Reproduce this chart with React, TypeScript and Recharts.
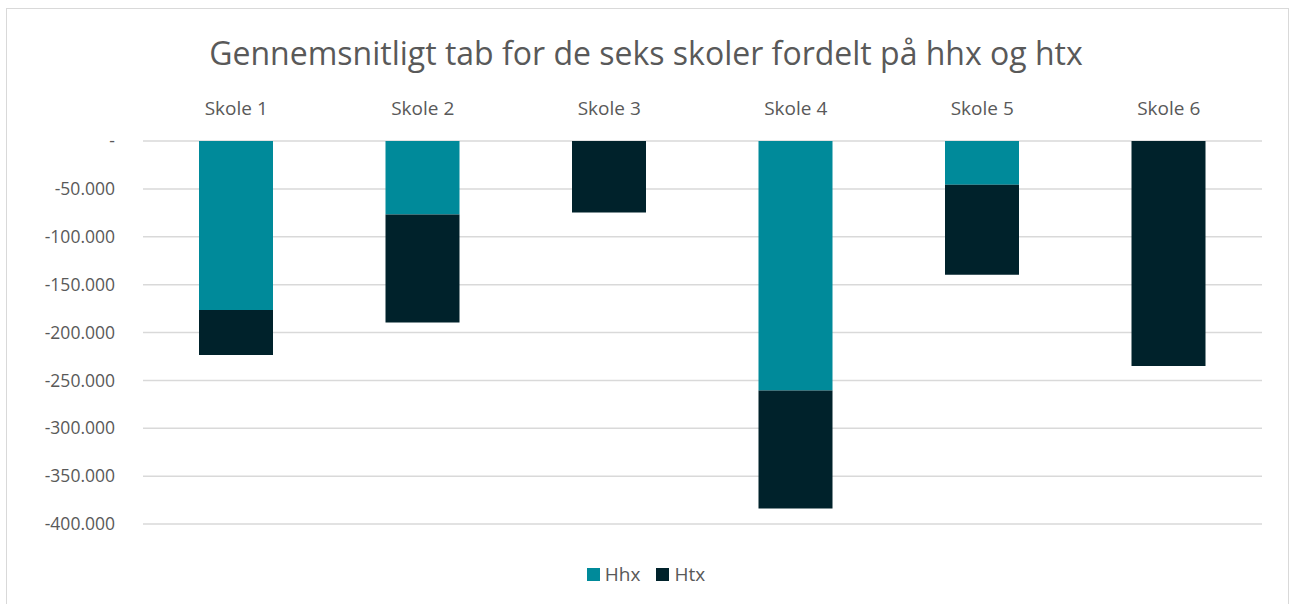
import React from "react";
import { BarChart, Bar, XAxis, YAxis, CartesianGrid, Legend } from "recharts";

const categories = ["Skole 1", "Skole 2", "Skole 3", "Skole 4", "Skole 5", "Skole 6"];
const hhxValues = [-176400, -76700, 0, -260500, -45600, 0];
const htxValues = [-47100, -112900, -74600, -123400, -94000, -235000];
const yTicks = [0, -50000, -100000, -150000, -200000, -250000, -300000, -350000, -400000];

const data = categories.map((name, i) => ({ name, Hhx: hhxValues[i], Htx: htxValues[i] }));

const FONT = "'Open Sans', 'Liberation Sans', sans-serif";
const TEXT = "#595959";
const HHX = "#008A9A";
const HTX = "#00222B";

const fmt = (v: number) => {
  if (v === 0) return "-";
  const abs = Math.abs(v);
  const s = abs.toString().replace(/\B(?=(\d{3})+(?!\d))/g, ".");
  return (v < 0 ? "-" : "") + s;
};

const renderLegend = () => (
  <div style={{ display: "flex", justifyContent: "center", alignItems: "center", fontFamily: FONT, fontSize: 19, color: TEXT }}>
    <span style={{ display: "inline-block", width: 13, height: 13, background: HHX, marginRight: 5 }} />
    <span style={{ marginRight: 16 }}>Hhx</span>
    <span style={{ display: "inline-block", width: 13, height: 13, background: HTX, marginRight: 5 }} />
    <span>Htx</span>
  </div>
);

export default function App() {
  return (
    <div style={{ position: "absolute", left: 0, top: 0, width: 1292, height: 604, overflow: "hidden", background: "#fff" }}>
      <div style={{ position: "absolute", left: 6, top: 8, width: 1283, height: 620, border: "1px solid #d9d9d9", boxSizing: "border-box" }} />
      <div style={{ position: "absolute", left: 0, top: 31, width: 1292, textAlign: "center", fontFamily: FONT, fontSize: 32, color: TEXT }}>
        Gennemsnitligt tab for de seks skoler fordelt på hhx og htx
      </div>
      <div style={{ position: "absolute", left: 0, top: 0 }}>
        <BarChart width={1292} height={604} data={data} margin={{ top: 111, right: 30, bottom: 54, left: 6 }} barSize={74}>
          <CartesianGrid vertical={false} stroke="#d9d9d9" strokeWidth={1.5} />
          <XAxis
            dataKey="name"
            orientation="top"
            height={30}
            axisLine={false}
            tickLine={false}
            tickSize={0}
            tickMargin={26}
            tick={{ fill: TEXT, fontSize: 19, fontFamily: FONT }}
          />
          <YAxis
            width={137}
            domain={[-400000, 0]}
            ticks={yTicks}
            tickFormatter={fmt}
            axisLine={false}
            tickLine={false}
            tickSize={0}
            tickMargin={28}
            interval={0}
            tick={{ fill: TEXT, fontSize: 17.5, fontFamily: FONT }}
          />
          <Legend verticalAlign="bottom" content={renderLegend} wrapperStyle={{ top: 561, left: 0, width: 1292 }} />
          <Bar dataKey="Hhx" stackId="a" fill={HHX} isAnimationActive={false} />
          <Bar dataKey="Htx" stackId="a" fill={HTX} isAnimationActive={false} />
        </BarChart>
      </div>
    </div>
  );
}
